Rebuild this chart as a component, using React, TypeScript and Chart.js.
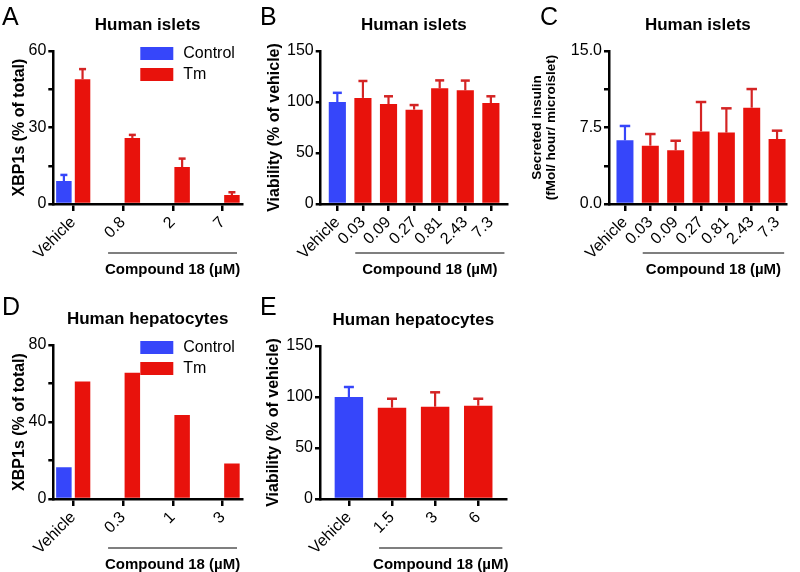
import React, { useEffect, useRef } from 'react';
import { Chart, registerables } from 'chart.js';

Chart.register(...registerables);

const FONT = "'Liberation Sans', Arial, Helvetica, sans-serif";
const BLUE = '#3646fa';
const RED = '#e8120c';
const RED_ERR = '#d42424';

// ---------- Panel A: Human islets, XBP1s ----------
const aCategories = ['Vehicle', '0.8', '2', '7'];
const aControl = [9.0, null, null, null];
const aControlErr = [11.4, null, null, null];
const aTm = [48.9, 25.9, 14.5, 3.5];
const aTmErr = [52.9, 27.1, 17.8, 4.6];
const aYTicks = [0, 15, 30, 45, 60];
const aYLabels = [0, 30, 60];

// ---------- Panel B: Human islets, viability ----------
const bCategories = ['Vehicle', '0.03', '0.09', '0.27', '0.81', '2.43', '7.3'];
const bValues = [100, 104, 98, 92.5, 113.4, 111.4, 99];
const bErr = [109, 120.6, 105.6, 97, 121.2, 121, 105.6];
const bYTicks = [0, 50, 100, 150];

// ---------- Panel C: Human islets, secreted insulin ----------
const cCategories = ['Vehicle', '0.03', '0.09', '0.27', '0.81', '2.43', '7.3'];
const cValues = [6.24, 5.72, 5.26, 7.12, 7.0, 9.44, 6.37];
const cErr = [7.65, 6.86, 6.2, 10.0, 9.38, 11.27, 7.19];
const cYTicks = [0, 3.75, 7.5, 11.25, 15];
const cYLabels = [0, 7.5, 15];

// ---------- Panel D: Human hepatocytes, XBP1s ----------
const dCategories = ['Vehicle', '0.3', '1', '3'];
const dControl = [16.5, null, null, null];
const dTm = [61.1, 65.6, 43.6, 18.5];
const dYTicks = [0, 20, 40, 60, 80];
const dYLabels = [0, 40, 80];

// ---------- Panel E: Human hepatocytes, viability ----------
const eCategories = ['Vehicle', '1.5', '3', '6'];
const eValues = [100, 89.5, 90.5, 91.5];
const eErr = [109.8, 98.3, 104.6, 98.3];
const eYTicks = [0, 50, 100, 150];

const toXY = (arr: (number | null)[]) => arr.map((v, i) => ({ x: i, y: v }));

const decorPlugin = {
  id: 'decor',
  afterDatasetsDraw(chart: any, _args: any, opts: any) {
    const ctx = chart.ctx;
    const yScale = chart.scales.y;
    chart.data.datasets.forEach((ds: any, di: number) => {
      const tops = ds.errorTops;
      if (!tops) return;
      const meta = chart.getDatasetMeta(di);
      meta.data.forEach((bar: any, i: number) => {
        const e = tops[i];
        if (e == null) return;
        const ey = yScale.getPixelForValue(e);
        const col = Array.isArray(ds.errorColor) ? ds.errorColor[i] : ds.errorColor;
        const cap = opts.capWidth || 8;
        ctx.save();
        ctx.strokeStyle = col;
        ctx.lineWidth = 2.2;
        ctx.beginPath();
        ctx.moveTo(bar.x, bar.y);
        ctx.lineTo(bar.x, ey);
        ctx.stroke();
        ctx.lineWidth = 2.5;
        ctx.beginPath();
        ctx.moveTo(bar.x - cap / 2, ey);
        ctx.lineTo(bar.x + cap / 2, ey);
        ctx.stroke();
        ctx.restore();
      });
    });
  },
  afterDraw(chart: any, _args: any, opts: any) {
    const ctx = chart.ctx;
    const ca = chart.chartArea;
    const xScale = chart.scales.x;
    ctx.save();
    ctx.fillStyle = '#000';
    // panel letter
    ctx.font = `25px ${FONT}`;
    ctx.textAlign = 'left';
    ctx.textBaseline = 'alphabetic';
    ctx.fillText(opts.letter, opts.letterX, 25);
    // title
    ctx.font = `bold 17px ${FONT}`;
    ctx.textAlign = 'center';
    ctx.textBaseline = 'middle';
    ctx.fillText(opts.title, (ca.left + ca.right) / 2, ca.top - 26);
    // legend
    if (opts.legend) {
      chart.data.datasets.forEach((ds: any, i: number) => {
        const bx = ca.left + 87;
        const by = ca.top - 4 + i * 21;
        ctx.fillStyle = ds.backgroundColor;
        ctx.fillRect(bx, by, 33, 13);
        ctx.fillStyle = '#000';
        ctx.font = `16px ${FONT}`;
        ctx.textAlign = 'left';
        ctx.textBaseline = 'middle';
        ctx.fillText(ds.label, bx + 43, by + 7);
      });
    }
    // bracket for compound concentrations
    const x1 = xScale.getPixelForValue(opts.bracketStart - 0.3);
    const x2 = xScale.getPixelForValue(xScale.max - 0.1);
    const ly = ca.bottom + 49;
    ctx.strokeStyle = '#000';
    ctx.lineWidth = 1.2;
    ctx.beginPath();
    ctx.moveTo(x1, ly);
    ctx.lineTo(x2, ly);
    ctx.stroke();
    ctx.fillStyle = '#000';
    ctx.font = `bold 15px ${FONT}`;
    ctx.textAlign = 'center';
    ctx.textBaseline = 'middle';
    ctx.fillText('Compound 18 (\u00b5M)', (x1 + x2) / 2, ly + 17);
    ctx.restore();
  },
};

type OptSpec = {
  cats: string[];
  xMin: number;
  xMax: number;
  yMax: number;
  yTicks: number[];
  yLabels: number[];
  yFmt: (v: number) => string;
  yTitle: string | string[];
  yTitleSize: number;
  yTitleLineHeight: number;
  yTitlePad: number;
  yWidth: number;
  xHeight: number;
  pad: { left: number; top: number; right: number; bottom: number };
  decor: any;
  catPct: number;
  barPct: number;
};

function makeOptions(s: OptSpec) {
  return {
    animation: false,
    responsive: false,
    maintainAspectRatio: false,
    layout: { padding: s.pad },
    datasets: { bar: { categoryPercentage: s.catPct, barPercentage: s.barPct, borderWidth: 0 } },
    scales: {
      x: {
        type: 'linear',
        offset: false,
        min: s.xMin,
        max: s.xMax,
        afterBuildTicks: (scale: any) => {
          scale.ticks = s.cats.map((_, i) => ({ value: i }));
        },
        afterFit: (scale: any) => {
          scale.height = s.xHeight;
          scale.paddingLeft = 0;
          scale.paddingRight = 0;
        },
        ticks: {
          autoSkip: false,
          minRotation: 45,
          maxRotation: 45,
          padding: 2,
          color: '#000',
          font: { family: FONT, size: 16 },
          callback: (v: number) => s.cats[Math.round(v)] ?? '',
        },
        grid: {
          offset: false,
          drawOnChartArea: false,
          drawTicks: true,
          tickLength: 7,
          lineWidth: 2.5,
          color: '#000',
        },
        border: { display: true, color: '#000', width: 2.5 },
      },
      y: {
        min: 0,
        max: s.yMax,
        afterBuildTicks: (scale: any) => {
          scale.ticks = s.yTicks.map((v) => ({ value: v }));
        },
        afterFit: (scale: any) => {
          scale.width = s.yWidth;
        },
        ticks: {
          padding: 2,
          color: '#000',
          font: { family: FONT, size: 16 },
          callback: (v: number) => (s.yLabels.some((l) => Math.abs(l - v) < 1e-9) ? s.yFmt(v) : ''),
        },
        grid: {
          drawOnChartArea: false,
          drawTicks: true,
          tickLength: 5,
          lineWidth: 2.5,
          color: '#000',
        },
        border: { display: true, color: '#000', width: 2.5 },
        title: {
          display: true,
          text: s.yTitle,
          color: '#000',
          font: { family: FONT, size: s.yTitleSize, weight: 'bold', lineHeight: s.yTitleLineHeight },
          padding: { top: s.yTitlePad, bottom: 0 },
        },
      },
    },
    plugins: {
      legend: { display: false },
      tooltip: { enabled: false },
      decor: s.decor,
    },
  };
}

const intFmt = (v: number) => String(v);
const oneDec = (v: number) => v.toFixed(1);

const configA = () => ({
  type: 'bar',
  data: {
    datasets: [
      { label: 'Control', data: toXY(aControl), backgroundColor: BLUE, errorTops: aControlErr, errorColor: BLUE },
      { label: 'Tm', data: toXY(aTm), backgroundColor: RED, errorTops: aTmErr, errorColor: RED_ERR },
    ],
  },
  options: makeOptions({
    cats: aCategories, xMin: -0.4, xMax: 3.39, yMax: 60, yTicks: aYTicks, yLabels: aYLabels, yFmt: intFmt,
    yTitle: 'XBP1s (% of total)', yTitleSize: 16, yTitleLineHeight: 1.2, yTitlePad: 10,
    yWidth: 53.3, xHeight: 86, pad: { left: 0, top: 51, right: 18, bottom: 0 },
    catPct: 0.75, barPct: 0.83,
    decor: { letter: 'A', letterX: 2, title: 'Human islets', legend: true, bracketStart: 1, capWidth: 7 },
  }),
  plugins: [decorPlugin],
});

const singleColors = (n: number) => Array.from({ length: n }, (_, i) => (i === 0 ? BLUE : RED));
const singleErrColors = (n: number) => Array.from({ length: n }, (_, i) => (i === 0 ? BLUE : RED_ERR));

const configB = () => ({
  type: 'bar',
  data: {
    datasets: [
      { label: 'Viability', data: toXY(bValues), backgroundColor: singleColors(bValues.length), errorTops: bErr, errorColor: singleErrColors(bValues.length) },
    ],
  },
  options: makeOptions({
    cats: bCategories, xMin: -0.65, xMax: 6.63, yMax: 150, yTicks: bYTicks, yLabels: bYTicks, yFmt: intFmt,
    yTitle: 'Viability (% of vehicle)', yTitleSize: 16, yTitleLineHeight: 1.2, yTitlePad: 5,
    yWidth: 60.7, xHeight: 86, pad: { left: 0, top: 51, right: 13, bottom: 0 },
    catPct: 0.67, barPct: 1,
    decor: { letter: 'B', letterX: 0, title: 'Human islets', legend: false, bracketStart: 1, capWidth: 9 },
  }),
  plugins: [decorPlugin],
});

const configC = () => ({
  type: 'bar',
  data: {
    datasets: [
      { label: 'Insulin', data: toXY(cValues), backgroundColor: singleColors(cValues.length), errorTops: cErr, errorColor: singleErrColors(cValues.length) },
    ],
  },
  options: makeOptions({
    cats: cCategories, xMin: -0.63, xMax: 6.38, yMax: 15, yTicks: cYTicks, yLabels: cYLabels, yFmt: oneDec,
    yTitle: ['Secreted insulin', '(fMol/ hour/ microislet)'], yTitleSize: 13.5, yTitleLineHeight: 1.05, yTitlePad: 10,
    yWidth: 89, xHeight: 86, pad: { left: 0, top: 51, right: 13.3, bottom: 0 },
    catPct: 0.67, barPct: 1,
    decor: { letter: 'C', letterX: 20, title: 'Human islets', legend: false, bracketStart: 1, capWidth: 10.5 },
  }),
  plugins: [decorPlugin],
});

const configD = () => ({
  type: 'bar',
  data: {
    datasets: [
      { label: 'Control', data: toXY(dControl), backgroundColor: BLUE },
      { label: 'Tm', data: toXY(dTm), backgroundColor: RED },
    ],
  },
  options: makeOptions({
    cats: dCategories, xMin: -0.4, xMax: 3.39, yMax: 80, yTicks: dYTicks, yLabels: dYLabels, yFmt: intFmt,
    yTitle: 'XBP1s (% of total)', yTitleSize: 16, yTitleLineHeight: 1.2, yTitlePad: 10,
    yWidth: 53.3, xHeight: 73, pad: { left: 0, top: 55, right: 18, bottom: 0 },
    catPct: 0.75, barPct: 0.83,
    decor: { letter: 'D', letterX: 2, title: 'Human hepatocytes', legend: true, bracketStart: 1, capWidth: 7 },
  }),
  plugins: [decorPlugin],
});

const configE = () => ({
  type: 'bar',
  data: {
    datasets: [
      { label: 'Viability', data: toXY(eValues), backgroundColor: singleColors(eValues.length), errorTops: eErr, errorColor: singleErrColors(eValues.length) },
    ],
  },
  options: makeOptions({
    cats: eCategories, xMin: -0.67, xMax: 3.66, yMax: 150, yTicks: eYTicks, yLabels: eYTicks, yFmt: intFmt,
    yTitle: 'Viability (% of vehicle)', yTitleSize: 16, yTitleLineHeight: 1.2, yTitlePad: 4,
    yWidth: 60, xHeight: 73, pad: { left: 0, top: 56, right: 13.3, bottom: 0 },
    catPct: 0.66, barPct: 1,
    decor: { letter: 'E', letterX: 0, title: 'Human hepatocytes', legend: false, bracketStart: 1, capWidth: 10 },
  }),
  plugins: [decorPlugin],
});

type PanelProps = { left: number; top: number; width: number; height: number; make: () => any };

function Panel({ left, top, width, height, make }: PanelProps) {
  const ref = useRef<HTMLCanvasElement>(null);
  useEffect(() => {
    const chart = new Chart(ref.current as HTMLCanvasElement, make());
    return () => chart.destroy();
  }, []);
  return (
    <canvas
      ref={ref}
      width={width}
      height={height}
      style={{ position: 'absolute', left, top, width, height, display: 'block' }}
    />
  );
}

export default function App() {
  return (
    <div style={{ position: 'fixed', left: 0, top: 0, width: 800, height: 572, background: '#fff', overflow: 'hidden' }}>
      <Panel left={0} top={0} width={260} height={290} make={configA} />
      <Panel left={260} top={0} width={260} height={290} make={configB} />
      <Panel left={520} top={0} width={280} height={290} make={configC} />
      <Panel left={0} top={290} width={260} height={282} make={configD} />
      <Panel left={260} top={290} width={260} height={282} make={configE} />
    </div>
  );
}
